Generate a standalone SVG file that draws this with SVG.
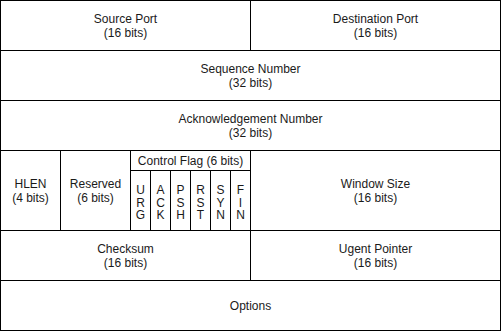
<svg xmlns="http://www.w3.org/2000/svg" width="501" height="331" viewBox="0 0 501 331">
<style>
.c{fill:#ffffff;stroke:#000000;stroke-width:1}
text{font-family:"Liberation Sans",Arial,Helvetica,sans-serif;font-size:12px;fill:#1a1a1a;text-anchor:middle}
</style>
<rect x="0" y="0" width="501" height="331" fill="#ffffff"/>
<g id="source-port"><rect class="c" x="0.5" y="0.5" width="250" height="50"/><text x="125.5" y="22.5">Source Port</text><text x="125.5" y="36.5">(16 bits)</text></g>
<g id="destination-port"><rect class="c" x="250.5" y="0.5" width="250" height="50"/><text x="375.5" y="22.5">Destination Port</text><text x="375.5" y="36.5">(16 bits)</text></g>
<g id="sequence-number"><rect class="c" x="0.5" y="50.5" width="500" height="50"/><text x="250.5" y="72.5">Sequence Number</text><text x="250.5" y="86.5">(32 bits)</text></g>
<g id="ack-number"><rect class="c" x="0.5" y="100.5" width="500" height="50"/><text x="250.5" y="122.5">Acknowledgement Number</text><text x="250.5" y="136.5">(32 bits)</text></g>
<g id="hlen"><rect class="c" x="0.5" y="150.5" width="60" height="80"/><text x="30.5" y="187.5">HLEN</text><text x="30.5" y="201.5">(4 bits)</text></g>
<g id="reserved"><rect class="c" x="60.5" y="150.5" width="70" height="80"/><text x="95.5" y="187.5">Reserved</text><text x="95.5" y="201.5">(6 bits)</text></g>
<g id="control-flag"><rect class="c" x="130.5" y="150.5" width="120" height="20"/><text x="190.5" y="164.8">Control Flag (6 bits)</text></g>
<g id="flag-urg"><rect class="c" x="130.5" y="170.5" width="20" height="60"/><text x="140.5" y="194">U</text><text x="140.5" y="206.5">R</text><text x="140.5" y="219">G</text></g>
<g id="flag-ack"><rect class="c" x="150.5" y="170.5" width="20" height="60"/><text x="160.5" y="194">A</text><text x="160.5" y="206.5">C</text><text x="160.5" y="219">K</text></g>
<g id="flag-psh"><rect class="c" x="170.5" y="170.5" width="20" height="60"/><text x="180.5" y="194">P</text><text x="180.5" y="206.5">S</text><text x="180.5" y="219">H</text></g>
<g id="flag-rst"><rect class="c" x="190.5" y="170.5" width="20" height="60"/><text x="200.5" y="194">R</text><text x="200.5" y="206.5">S</text><text x="200.5" y="219">T</text></g>
<g id="flag-syn"><rect class="c" x="210.5" y="170.5" width="20" height="60"/><text x="220.5" y="194">S</text><text x="220.5" y="206.5">Y</text><text x="220.5" y="219">N</text></g>
<g id="flag-fin"><rect class="c" x="230.5" y="170.5" width="20" height="60"/><text x="240.5" y="194">F</text><text x="240.5" y="206.5">I</text><text x="240.5" y="219">N</text></g>
<g id="window-size"><rect class="c" x="250.5" y="150.5" width="250" height="80"/><text x="375.5" y="187.5">Window Size</text><text x="375.5" y="201.5">(16 bits)</text></g>
<g id="checksum"><rect class="c" x="0.5" y="230.5" width="250" height="50"/><text x="125.5" y="252.5">Checksum</text><text x="125.5" y="266.5">(16 bits)</text></g>
<g id="urgent-pointer"><rect class="c" x="250.5" y="230.5" width="250" height="50"/><text x="375.5" y="252.5">Ugent Pointer</text><text x="375.5" y="266.5">(16 bits)</text></g>
<g id="options"><rect class="c" x="0.5" y="280.5" width="500" height="50"/><text x="250.5" y="309.5">Options</text></g>
<g id="connectors"></g>
</svg>
